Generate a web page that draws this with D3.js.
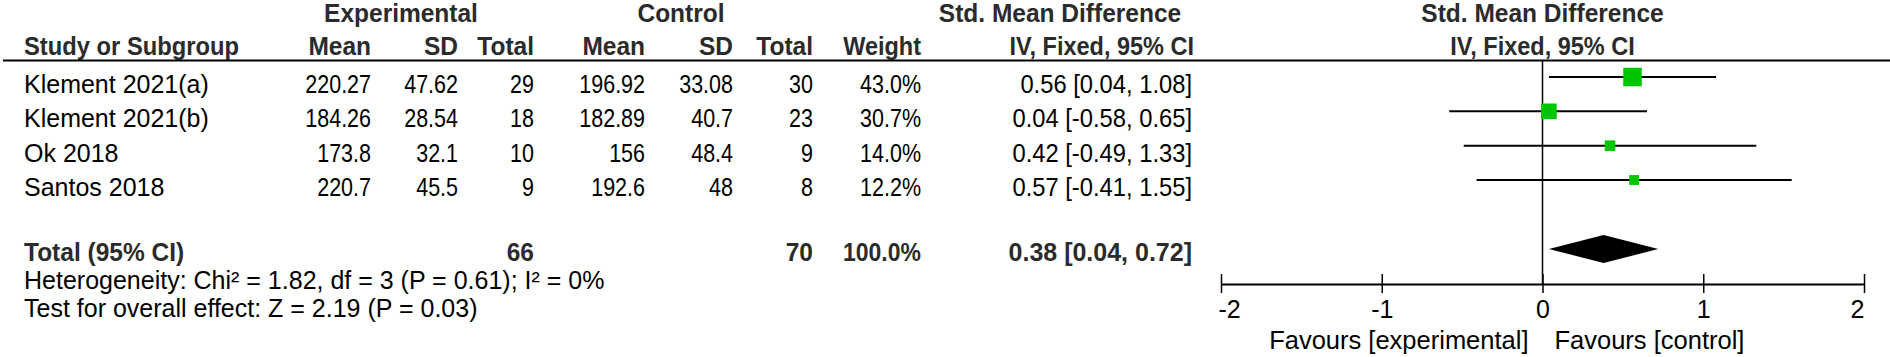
<!DOCTYPE html>
<html lang="en">
  <head>
    <meta charset="utf-8">
    <title>Forest plot</title>
    <script src="https://cdn.jsdelivr.net/npm/d3@7"></script>
    <style>
      body { margin: 0; background: #fff; }
      svg text { font-family: "Liberation Sans", Arial, sans-serif; }
    </style>
  </head>
  <body>
    <script>
      // data
      var studies  = ["Klement 2021(a)", "Klement 2021(b)", "Ok 2018", "Santos 2018"];
      var expMean  = [220.27, 184.26, 173.8, 220.7];
      var expSD    = [47.62, 28.54, 32.1, 45.5];
      var expN     = [29, 18, 10, 9];
      var ctlMean  = [196.92, 182.89, 156, 192.6];
      var ctlSD    = [33.08, 40.7, 48.4, 48];
      var ctlN     = [30, 23, 9, 8];
      var weight   = [43.0, 30.7, 14.0, 12.2];
      var smd      = [0.56, 0.04, 0.42, 0.57];
      var ciLow    = [0.04, -0.58, -0.49, -0.41];
      var ciHigh   = [1.08, 0.65, 1.33, 1.55];
      var total    = {expN: 66, ctlN: 70, weight: 100.0, smd: 0.38, lo: 0.04, hi: 0.72};
      var tickVals = [-2, -1, 0, 1, 2];
      var hetText  = "Heterogeneity: Chi\u00b2 = 1.82, df = 3 (P = 0.61); I\u00b2 = 0%";
      var testText = "Test for overall effect: Z = 2.19 (P = 0.03)";

      var w = 1890;
      var h = 357;

      var svg = d3.select("body")
        .append("svg")
        .attr("width", w)
        .attr("height", h);

      // hyphen minus like the original, not the unicode one d3 uses
      var loc = d3.formatLocale({decimal: ".", thousands: ",", grouping: [3], currency: ["", ""], minus: "-"});
      var f2 = loc.format(".2f");
      var f1 = loc.format(".1f");

      // digits in the original are narrower than Arial's, squeeze a bit
      function txt(x, y, s, anchor, bold, size, sx) {
        return svg.append("text")
          .attr("transform", "translate(" + x + "," + y + ") scale(" + sx + ",1)")
          .attr("text-anchor", anchor)
          .attr("font-size", size)
          .attr("font-weight", bold ? "bold" : "normal")
          .attr("fill", bold ? "#2b2b2b" : "#000")
          .text(s);
      }
      var NUM = 0.86, CIS = 0.95, WRD = 1.0, BLD = 0.98, FS = 25;

      // columns (right edges)
      var col = {name: 24, expMean: 371, expSD: 458, expN: 534, ctlMean: 645, ctlSD: 733, ctlN: 813, weight: 921, ci: 1192};

      var xScale = d3.scaleLinear().domain([-2, 2]).range([1221, 1864]);
      var yRow = d3.scaleLinear().domain([0, studies.length - 1]).range([77, 180]);
      var yText = d3.scaleLinear().domain([0, studies.length - 1]).range([93, 196]);
      var yTotal = 249;
      var yAxis = 284;
      var sizeScale = d3.scaleSqrt().domain([0, d3.max(weight)]).range([0, 18.5]);

      // headers
      txt(401, 22, "Experimental", "middle", true, FS, BLD);
      txt(681, 22, "Control", "middle", true, FS, BLD);
      txt(1060, 22, "Std. Mean Difference", "middle", true, FS, BLD);
      txt(xScale(0), 22, "Std. Mean Difference", "middle", true, FS, BLD);

      txt(col.name, 55, "Study or Subgroup", "start", true, FS, 0.95);
      txt(col.expMean, 55, "Mean", "end", true, FS, BLD);
      txt(col.expSD, 55, "SD", "end", true, FS, BLD);
      txt(col.expN, 55, "Total", "end", true, FS, BLD);
      txt(col.ctlMean, 55, "Mean", "end", true, FS, BLD);
      txt(col.ctlSD, 55, "SD", "end", true, FS, BLD);
      txt(col.ctlN, 55, "Total", "end", true, FS, BLD);
      txt(col.weight, 55, "Weight", "end", true, FS, 0.94);
      txt(col.ci + 2, 55, "IV, Fixed, 95% CI", "end", true, FS, 0.94);
      txt(xScale(0), 55, "IV, Fixed, 95% CI", "middle", true, FS, 0.94);

      svg.append("line")
        .attr("x1", 3).attr("x2", w)
        .attr("y1", 60.5).attr("y2", 60.5)
        .attr("stroke", "#000").attr("stroke-width", 2);

      // study rows
      studies.forEach(function(s, i) {
        var y = yText(i);
        txt(col.name, y, s, "start", false, FS, WRD);
        txt(col.expMean, y, String(expMean[i]), "end", false, FS, NUM);
        txt(col.expSD, y, String(expSD[i]), "end", false, FS, NUM);
        txt(col.expN, y, String(expN[i]), "end", false, FS, NUM);
        txt(col.ctlMean, y, String(ctlMean[i]), "end", false, FS, NUM);
        txt(col.ctlSD, y, String(ctlSD[i]), "end", false, FS, NUM);
        txt(col.ctlN, y, String(ctlN[i]), "end", false, FS, NUM);
        txt(col.weight, y, f1(weight[i]) + "%", "end", false, FS, NUM);
        txt(col.ci, y, f2(smd[i]) + " [" + f2(ciLow[i]) + ", " + f2(ciHigh[i]) + "]", "end", false, FS, CIS);
      });

      // total row
      var yt = 260.5;
      txt(col.name, yt, "Total (95% CI)", "start", true, FS, BLD);
      txt(col.expN, yt, String(total.expN), "end", true, FS, BLD);
      txt(col.ctlN, yt, String(total.ctlN), "end", true, FS, BLD);
      txt(col.weight, yt, f1(total.weight) + "%", "end", true, FS, 0.92);
      txt(col.ci, yt, f2(total.smd) + " [" + f2(total.lo) + ", " + f2(total.hi) + "]", "end", true, FS, 1.0);
      txt(col.name, 289, hetText, "start", false, FS, WRD);
      txt(col.name, 317, testText, "start", false, FS, WRD);

      // zero line
      svg.append("line")
        .attr("x1", xScale(0)).attr("x2", xScale(0))
        .attr("y1", 60).attr("y2", yAxis)
        .attr("stroke", "#000").attr("stroke-width", 1.5);

      // confidence intervals
      svg.selectAll("line.ci")
        .data(studies)
        .enter()
        .append("line")
        .attr("class", "ci")
        .attr("x1", function(d, i) { return xScale(ciLow[i]); })
        .attr("x2", function(d, i) { return xScale(ciHigh[i]); })
        .attr("y1", function(d, i) { return yRow(i); })
        .attr("y2", function(d, i) { return yRow(i); })
        .attr("stroke", "#000")
        .attr("stroke-width", 2);

      svg.selectAll("rect.box")
        .data(studies)
        .enter()
        .append("rect")
        .attr("class", "box")
        .attr("x", function(d, i) { return xScale(smd[i]) - sizeScale(weight[i]) / 2; })
        .attr("y", function(d, i) { return yRow(i) - sizeScale(weight[i]) / 2; })
        .attr("width", function(d, i) { return sizeScale(weight[i]); })
        .attr("height", function(d, i) { return sizeScale(weight[i]); })
        .attr("fill", "#00c400");

      // pooled diamond
      var dh = 14;
      svg.append("path")
        .attr("d", "M" + xScale(total.lo) + "," + yTotal +
                   "L" + xScale(total.smd) + "," + (yTotal - dh) +
                   "L" + xScale(total.hi) + "," + yTotal +
                   "L" + xScale(total.smd) + "," + (yTotal + dh) + "Z")
        .attr("fill", "#000");

      // axis
      var xAxis = d3.axisBottom(xScale)
        .tickValues(tickVals)
        .tickSize(9)
        .tickSizeOuter(0)
        .tickFormat(function(d) { return loc.format("d")(d); });
      var ax = svg.append("g")
        .attr("transform", "translate(0," + yAxis + ")")
        .call(xAxis);
      ax.select(".domain").attr("stroke-width", 2);
      ax.selectAll(".tick line").attr("y1", -10).attr("y2", 9).attr("stroke-width", 1.5);
      ax.selectAll(".tick text")
        .attr("font-size", 25)
        .attr("font-family", "Liberation Sans, Arial, sans-serif")
        .attr("fill", "#000")
        .attr("y", 0)
        .attr("dy", 34)
        .attr("text-anchor", function(d, i) { return i === 0 ? "start" : (i === tickVals.length - 1 ? "end" : "middle"); })
        .attr("x", function(d, i) { return i === 0 ? -3 : 0; });

      svg.append("text")
        .attr("x", xScale(0) - 14).attr("y", 349)
        .attr("text-anchor", "end").attr("font-size", 25.5)
        .text("Favours [experimental]");
      svg.append("text")
        .attr("x", xScale(0) + 12).attr("y", 349)
        .attr("text-anchor", "start").attr("font-size", 25.5)
        .text("Favours [control]");
    </script>
  </body>
</html>
